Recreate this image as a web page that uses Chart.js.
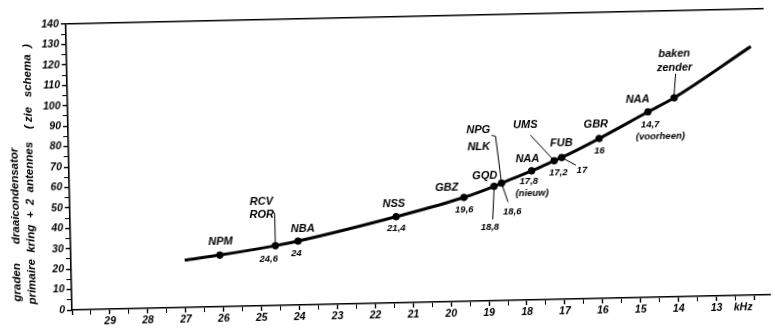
<!DOCTYPE html>
<html><head><meta charset="utf-8">
<script src="https://cdn.jsdelivr.net/npm/chart.js@4/dist/chart.umd.min.js"></script>
<style>
html,body{margin:0;padding:0;background:#fff;overflow:hidden;}
#wrap{width:775px;height:330px;position:relative;overflow:hidden;background:#fff;}
canvas{display:block;transform:rotate(-1.25deg);transform-origin:72px 310px;}
</style></head><body><div id="wrap"><canvas id="c" width="775" height="330"></canvas></div>
<script>
// ---- data ----
const curveFreq  = [27.0, 26.07, 24.6, 24.0, 21.4, 19.6, 18.8, 18.6, 17.8, 17.2, 17.0, 16.0, 14.7, 14.0, 11.95];
const curveValue = [23.2, 25.3, 29.3, 31.3, 42.2, 50.9, 56.0, 57.5, 63.2, 67.9, 69.4, 78.3, 90.8, 97.4, 121.7];

const stationNames = [['NPM'], ['RCV','ROR'], ['NBA'], ['NSS'], ['GBZ'], ['GQD'], ['NPG','NLK'], ['NAA'], ['UMS'], ['FUB'], ['GBR'], ['NAA'], ['baken','zender']];
const stationFreq  = [26.07, 24.6, 24.0, 21.4, 19.6, 18.8, 18.6, 17.8, 17.2, 17.0, 16.0, 14.7, 14.0];
const stationValue = [25.3, 29.3, 31.3, 42.2, 50.9, 56.0, 57.5, 63.2, 67.9, 69.4, 78.3, 90.8, 97.4];
const freqLabels   = ['', '24,6', '24', '21,4', '19,6', '18,8', '18,6', '17,8', '17,2', '17', '16', '14,7', ''];
const stationNotes = ['', '', '', '', '', '', '', '(nieuw)', '', '', '', '(voorheen)', ''];

const xTickLabels = [29, 28, 27, 26, 25, 24, 23, 22, 21, 20, 19, 18, 17, 16, 15, 14, 13];
const yTickLabels = [0, 10, 20, 30, 40, 50, 60, 70, 80, 90, 100, 110, 120, 130, 140];
const xUnit = 'kHz';
const yTitle = ['   graden      draaicondensator', '  primaire  kring  +  2  antennes    ( zie   schema  )'];

// ---- label placement (pixel offsets from each station dot) ----
const place = [
  {names:[[1,-13]]},
  {names:[[-13,-44],[-13,-31]], num:[-7,13], leaders:[[[0,-2],[0,-32],[-2,-35],[-4,-36]]]},
  {names:[[5,-12]], num:[-2,12]},
  {names:[[-2,-13]], num:[0,12]},
  {names:[[-17,-10]], num:[0,12]},
  {names:[[-9,-11]], num:[-5,41], leaders:[[[0,2],[-2,33]]]},
  {names:[[-22,-54],[-22,-37]], num:[10,29], leaders:[[[0,0],[-5,-47],[-9,-48]], [[0,0],[6,19]]]},
  {names:[[-4,-12]], num:[-3,10], note:[0,22]},
  {names:[[-28,-36]], num:[4,12], leaders:[[[-23,-26],[0,0]]]},
  {names:[[0,-14]], num:[20,13], leaders:[[[0,0],[14,8]]]},
  {names:[[-3,-14]], num:[0,12]},
  {names:[[-10,-13]], num:[2,13], note:[12,25]},
  {names:[[1,-44],[1,-30]], leaders:[[[0,-3],[2,-24]]]}
];

const FAM = '"Liberation Sans", Arial, sans-serif';

const labelPlugin = {
  id: 'stationLabels',
  afterDatasetsDraw(chart) {
    const ctx = chart.ctx, xs = chart.scales.x, ys = chart.scales.y;
    ctx.save();
    ctx.fillStyle = '#000';
    ctx.strokeStyle = '#000';
    ctx.textAlign = 'center';
    ctx.textBaseline = 'middle';
    stationFreq.forEach((f, i) => {
      const px = xs.getPixelForValue(f), py = ys.getPixelForValue(stationValue[i]);
      const p = place[i];
      ctx.font = 'italic bold 11px ' + FAM;
      stationNames[i].forEach((n, k) => {
        const o = p.names[k];
        ctx.fillText(n, px + o[0], py + o[1]);
      });
      ctx.font = 'italic bold 9.5px ' + FAM;
      if (freqLabels[i] && p.num) ctx.fillText(freqLabels[i], px + p.num[0], py + p.num[1]);
      if (stationNotes[i] && p.note) ctx.fillText(stationNotes[i], px + p.note[0], py + p.note[1]);
      ctx.lineWidth = 1;
      (p.leaders || []).forEach(path => {
        ctx.beginPath();
        path.forEach((pt, j) => j ? ctx.lineTo(px + pt[0], py + pt[1]) : ctx.moveTo(px + pt[0], py + pt[1]));
        ctx.stroke();
      });
    });
    // unit label in the tick row
    ctx.font = 'italic bold 10.5px ' + FAM;
    ctx.fillText(xUnit, xs.getPixelForValue(12.3), xs.top + 12);
    ctx.restore();
  }
};

const tickFont = {family: FAM, size: 10.5, style: 'italic', weight: 'bold'};

new Chart(document.getElementById('c'), {
  type: 'line',
  data: {
    datasets: [
      {
        data: curveFreq.map((f, i) => ({x: f, y: curveValue[i]})),
        borderColor: '#000', borderWidth: 3, pointRadius: 0,
        tension: 0.4, cubicInterpolationMode: 'monotone', fill: false
      },
      {
        type: 'scatter',
        data: stationFreq.map((f, i) => ({x: f, y: stationValue[i]})),
        backgroundColor: '#000', borderColor: '#000', pointRadius: 3.3, showLine: false
      }
    ]
  },
  options: {
    responsive: false, animation: false, devicePixelRatio: 1,
    layout: {padding: {top: 24, left: 0, right: 0, bottom: 0}},
    plugins: {legend: {display: false}, tooltip: {enabled: false}},
    scales: {
      x: {
        type: 'linear', reverse: true, min: 11.59, max: 30,
        afterBuildTicks: s => { const t = []; for (let v = 12; v <= 30; v += 0.5) t.push({value: v}); s.ticks = t; },
        afterFit: s => { s.height = 20; },
        ticks: {autoSkip: false, maxRotation: 0, padding: 1, color: '#000', font: tickFont,
          callback: v => xTickLabels.includes(v) ? String(v) : ''},
        grid: {drawOnChartArea: false, tickLength: 5, tickColor: '#000',
          tickWidth: c => (c.tick && Number.isInteger(c.tick.value)) ? 1.4 : 1},
        border: {color: '#000', width: 1.6}
      },
      y: {
        min: 0, max: 140,
        afterBuildTicks: s => { const t = []; for (let v = 0; v <= 140; v += 5) t.push({value: v}); s.ticks = t; },
        afterFit: s => { s.width = 72; },
        ticks: {autoSkip: false, padding: 2, color: '#000', font: tickFont,
          callback: v => yTickLabels.includes(v) ? String(v) : ''},
        grid: {drawOnChartArea: true, tickLength: 5, tickColor: '#000',
          color: c => (c.tick && c.tick.value === 140) ? '#000' : 'rgba(0,0,0,0)',
          lineWidth: c => (c.tick && c.tick.value === 140) ? 1.5 : 1,
          tickWidth: c => (c.tick && c.tick.value % 10 === 0) ? 1.4 : 1},
        border: {color: '#000', width: 1.6},
        title: {display: true, text: yTitle, align: 'start', color: '#000',
          font: {family: FAM, size: 11.5, style: 'italic', weight: 'bold', lineHeight: '15px'},
          padding: {top: 10, bottom: 0}}
      }
    }
  },
  plugins: [labelPlugin]
});
</script></body></html>
